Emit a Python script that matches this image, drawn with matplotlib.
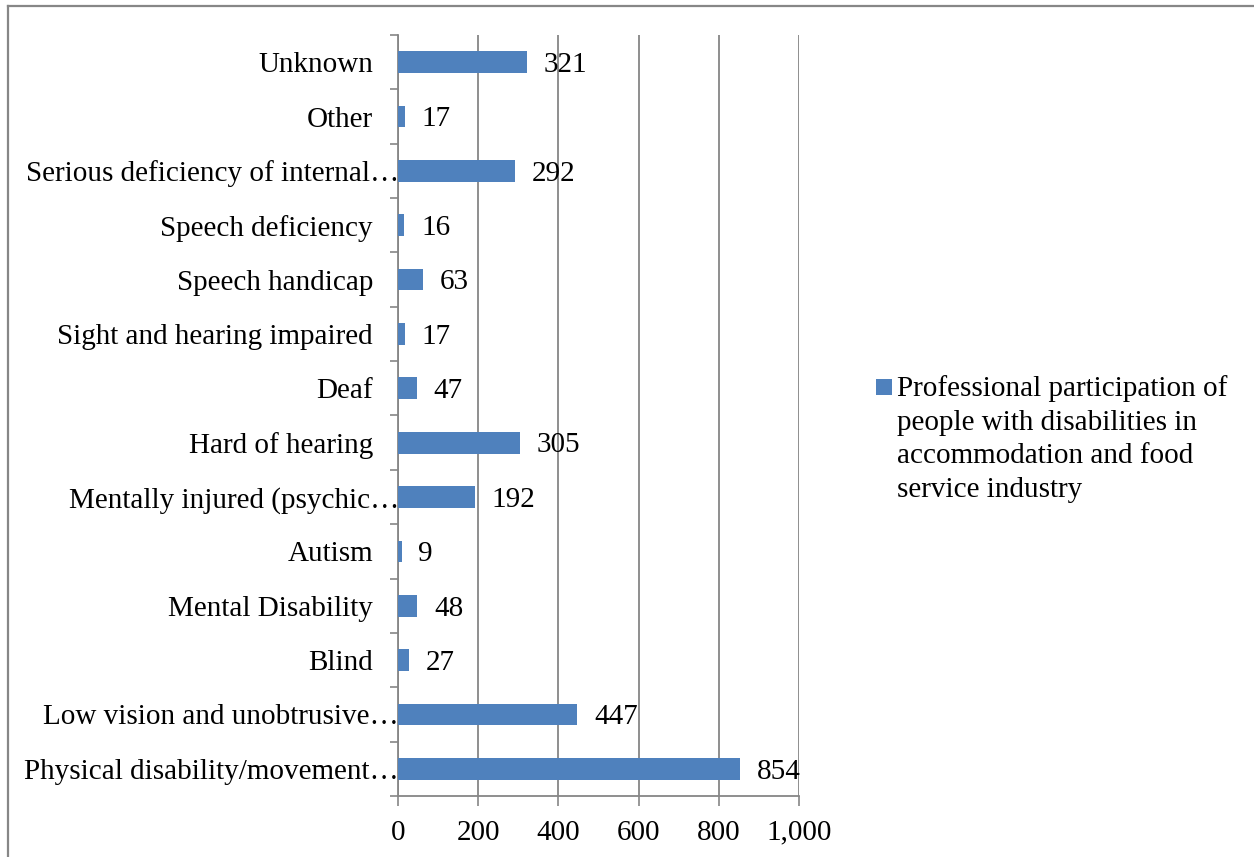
import matplotlib
matplotlib.use("Agg")
import matplotlib.pyplot as plt
from matplotlib.lines import Line2D
from matplotlib.patches import Rectangle
from matplotlib.ticker import FuncFormatter, FixedLocator
from matplotlib.transforms import ScaledTranslation

# Categories listed bottom to top as they appear on the axis
categories = [
    "Physical disability/movement…",
    "Low vision and unobtrusive…",
    "Blind",
    "Mental Disability",
    "Autism",
    "Mentally injured (psychic…",
    "Hard of hearing",
    "Deaf",
    "Sight and hearing impaired",
    "Speech handicap",
    "Speech deficiency",
    "Serious deficiency of internal…",
    "Other",
    "Unknown",
]
values = [854, 447, 27, 48, 9, 192, 305, 47, 17, 63, 16, 292, 17, 321]
series_name = ("Professional participation of\npeople with disabilities in\n"
               "accommodation and food\nservice industry")
x_ticks = [0, 200, 400, 600, 800, 1000]

plt.rcParams["font.family"] = ["Liberation Serif", "DejaVu Serif"]
W, H = 1254, 857
fig = plt.figure(figsize=(W / 100, H / 100), dpi=100)
fig.patch.set_facecolor("white")

bar_color = "#4F81BD"
grid_color = "#868686"
fs = 21

ax = fig.add_axes([398 / W, 1 - 796 / H, (799 - 398) / W, (796 - 35) / H])
ypos = list(range(len(categories)))
ax.barh(ypos, values, height=0.4, color=bar_color, zorder=3)
ax.set_xlim(0, 1000)
ax.set_ylim(-0.5, len(categories) - 0.5)

for y, v in zip(ypos, values):
    ax.annotate(f"{v}", xy=(v, y), xytext=(12, -2), textcoords="offset points",
                ha="left", va="center", fontsize=fs, color="black", zorder=4)

ax.set_yticks(ypos)
ax.set_yticklabels(categories, fontsize=fs)
ax.yaxis.set_minor_locator(FixedLocator([i - 0.5 for i in range(len(categories) + 1)]))
ax.tick_params(axis="y", which="major", length=0, pad=18)
ax.tick_params(axis="y", which="minor", length=6, width=1.2, color=grid_color, direction="out")

# Truncated labels run up to the axis line
shift = ScaledTranslation(26 / 100, 0, fig.dpi_scale_trans)
for lbl in ax.get_yticklabels():
    if lbl.get_text().endswith("…"):
        lbl.set_transform(lbl.get_transform() + shift)

ax.set_xticks(x_ticks)
ax.xaxis.set_major_formatter(FuncFormatter(lambda v, p: f"{int(v):,}"))
ax.tick_params(axis="x", which="major", length=7, width=1.2, color=grid_color,
               direction="out", labelsize=fs, pad=10)
ax.grid(axis="x", color=grid_color, linewidth=1.3, zorder=0)
ax.set_axisbelow(True)

for s in ("top", "right"):
    ax.spines[s].set_visible(False)
for s in ("left", "bottom"):
    ax.spines[s].set_color(grid_color)
    ax.spines[s].set_linewidth(1.3)

# Legend: marker square with wrapped series name
fig.patches.append(Rectangle((876 / W, 1 - 395 / H), 16 / W, 16 / H,
                             transform=fig.transFigure, facecolor=bar_color,
                             edgecolor="none"))
fig.text(897 / W, 1 - 375 / H, series_name, ha="left", va="top",
         fontsize=fs, linespacing=1.38, color="black")

# Chart frame (left and top edges visible)
fig.add_artist(Line2D([8 / W, 8 / W], [0, 1 - 6 / H], transform=fig.transFigure,
                      color="#878787", linewidth=1.6))
fig.add_artist(Line2D([8 / W, 1], [1 - 6 / H, 1 - 6 / H], transform=fig.transFigure,
                      color="#878787", linewidth=1.6))

fig.savefig("out.png", dpi=100)
